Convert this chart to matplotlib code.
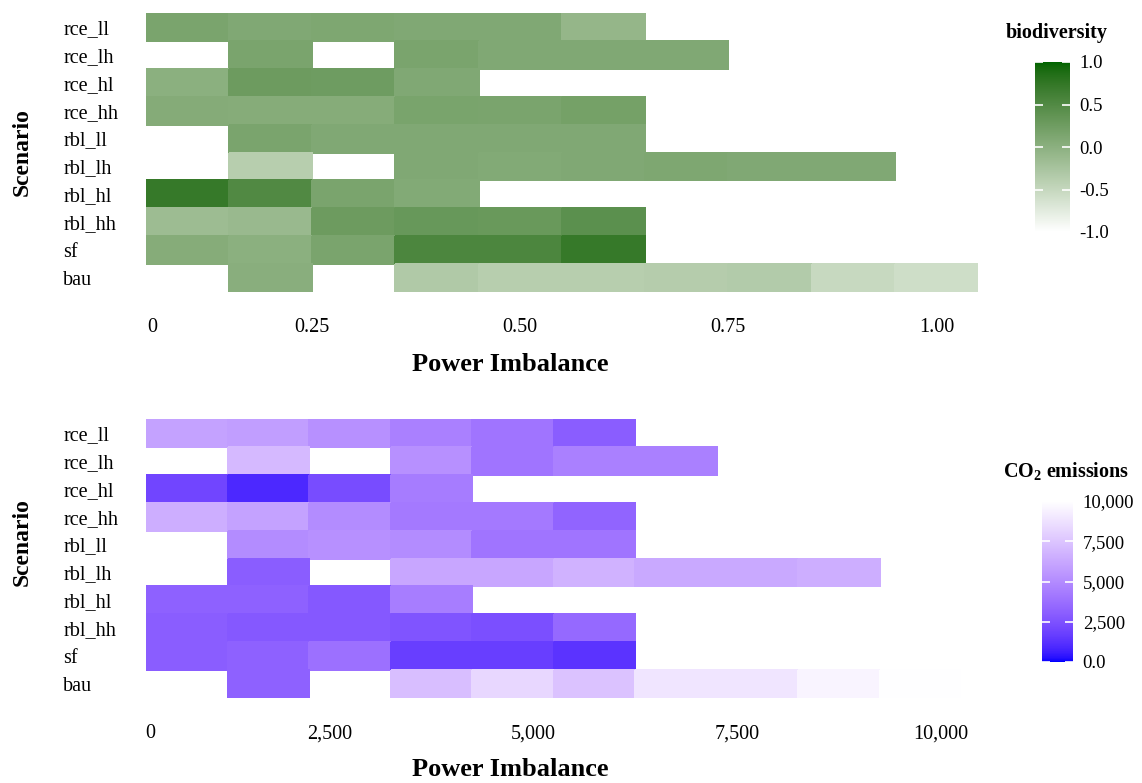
import numpy as np
import matplotlib
matplotlib.use("Agg")
import matplotlib.pyplot as plt
from matplotlib.colors import ListedColormap, Normalize, to_rgb

plt.rcParams['font.family'] = ['Liberation Serif', 'DejaVu Serif']
plt.rcParams['mathtext.fontset'] = 'custom'
plt.rcParams['mathtext.rm'] = 'Liberation Serif'
plt.rcParams['mathtext.bf'] = 'Liberation Serif:bold'

nan = np.nan

# ---------------- data ----------------
scenarios = ['rce_ll', 'rce_lh', 'rce_hl', 'rce_hh', 'rbl_ll',
             'rbl_lh', 'rbl_hl', 'rbl_hh', 'sf', 'bau']

bio_x = [0.1, 0.2, 0.3, 0.4, 0.5, 0.6, 0.7, 0.8, 0.9, 1.0]
bio_xticks = [0.058, 0.25, 0.50, 0.75, 1.00]
bio_xticklabels = ['0', '0.25', '0.50', '0.75', '1.00']
bio_cbar_ticks = [-1.0, -0.5, 0.0, 0.5, 1.0]
bio_cbar_labels = ['-1.0', '-0.5', '0.0', '0.5', '1.0']

biodiversity = [
    [0.15, 0.10, 0.12, 0.10, 0.10, -0.08, nan, nan, nan, nan],    # rce_ll
    [nan, 0.15, nan, 0.15, 0.10, 0.10, 0.10, nan, nan, nan],      # rce_lh
    [0.00, 0.27, 0.25, 0.10, nan, nan, nan, nan, nan, nan],       # rce_hl
    [0.06, 0.05, 0.05, 0.16, 0.15, 0.20, nan, nan, nan, nan],     # rce_hh
    [nan, 0.15, 0.10, 0.10, 0.10, 0.10, nan, nan, nan, nan],      # rbl_ll
    [nan, -0.38, nan, 0.10, 0.08, 0.10, 0.12, 0.10, 0.10, nan],   # rbl_lh
    [0.72, 0.50, 0.15, 0.08, nan, nan, nan, nan, nan, nan],       # rbl_hl
    [-0.15, -0.12, 0.27, 0.32, 0.30, 0.42, nan, nan, nan, nan],   # rbl_hh
    [0.05, 0.00, 0.15, 0.55, 0.55, 0.72, nan, nan, nan, nan],     # sf
    [nan, 0.02, nan, -0.32, -0.38, -0.38, -0.36, -0.34, -0.52, -0.58],  # bau
]

co2_x = [750, 1750, 2750, 3750, 4750, 5750, 6750, 7750, 8750, 9750]
co2_xticks = [300, 2500, 5000, 7500, 10000]
co2_xticklabels = ['0', '2,500', '5,000', '7,500', '10,000']
co2_cbar_ticks = [0, 2500, 5000, 7500, 10000]
co2_cbar_labels = ['0.0', '2,500', '5,000', '7,500', '10,000']

co2 = [
    [6000, 5800, 5200, 4500, 4000, 3000, nan, nan, nan, nan],     # rce_ll
    [nan, 7000, nan, 5200, 4000, 4500, 4500, nan, nan, nan],      # rce_lh
    [2000, 900, 2300, 4300, nan, nan, nan, nan, nan, nan],        # rce_hl
    [6500, 6000, 5000, 4200, 4200, 3300, nan, nan, nan, nan],     # rce_hh
    [nan, 5000, 5200, 5000, 4000, 4000, nan, nan, nan, nan],      # rbl_ll
    [nan, 3000, nan, 6200, 6200, 6700, 6300, 6300, 6500, nan],    # rbl_lh
    [3200, 3200, 2800, 4400, nan, nan, nan, nan, nan, nan],       # rbl_hl
    [3000, 2800, 2800, 2600, 2400, 3500, nan, nan, nan, nan],     # rbl_hh
    [3000, 3200, 3800, 1700, 1700, 1300, nan, nan, nan, nan],     # sf
    [nan, 3200, nan, 7200, 8300, 7400, 8900, 8900, 9500, 9950],   # bau
]


# ---------------- Lab colour ramp (like ggplot scale_fill_gradient) ----------------
WHITE_REF = np.array([0.95047, 1.0, 1.08883])
M = np.array([[0.4124, 0.3576, 0.1805],
              [0.2126, 0.7152, 0.0722],
              [0.0193, 0.1192, 0.9505]])
Minv = np.linalg.inv(M)


def to_lab(c):
    rgb = np.array(to_rgb(c))
    lin = np.where(rgb <= 0.04045, rgb / 12.92, ((rgb + 0.055) / 1.055) ** 2.4)
    xyz = M @ lin / WHITE_REF
    f = np.where(xyz > 0.008856, np.cbrt(xyz), 7.787 * xyz + 16 / 116)
    return np.array([116 * f[1] - 16, 500 * (f[0] - f[1]), 200 * (f[1] - f[2])])


def from_lab(lab):
    L, a, b = lab
    fy = (L + 16) / 116
    fx = fy + a / 500
    fz = fy - b / 200
    f = np.array([fx, fy, fz])
    xyz = np.where(f ** 3 > 0.008856, f ** 3, (f - 16 / 116) / 7.787) * WHITE_REF
    lin = Minv @ xyz
    lin = np.clip(lin, 0, 1)
    rgb = np.where(lin <= 0.0031308, 12.92 * lin, 1.055 * lin ** (1 / 2.4) - 0.055)
    return np.clip(rgb, 0, 1)


def lab_cmap(low, high, n=256):
    l1, l2 = to_lab(low), to_lab(high)
    cols = [from_lab(l1 + (l2 - l1) * t) for t in np.linspace(0, 1, n)]
    return ListedColormap(cols)


green_cmap = lab_cmap('white', '#006400')
blue_cmap = lab_cmap('#0000FF', 'white')

# ---------------- figure ----------------
W, H = 1142, 783
fig = plt.figure(figsize=(W / 100, H / 100), dpi=100)


def px_axes(x0, y0, x1, y1):
    return fig.add_axes([x0 / W, 1 - y1 / H, (x1 - x0) / W, (y1 - y0) / H])


def edges(centers):
    c = np.asarray(centers, dtype=float)
    step = c[1] - c[0]
    return np.concatenate([c - step / 2, [c[-1] + step / 2]])


def draw_panel(ax, xc, values, cmap, norm, xticks, xticklabels):
    data = np.ma.masked_invalid(np.array(values, dtype=float))
    xe = edges(xc)
    ye = np.arange(len(scenarios) + 1) - 0.5
    ax.pcolormesh(xe, ye, data, cmap=cmap, norm=norm, shading='flat',
                  edgecolors='face', linewidth=0.2)
    ax.set_xlim(xe[0], xe[-1])
    ax.set_ylim(ye[-1], ye[0])
    ax.set_yticks(np.arange(len(scenarios)))
    ax.set_yticklabels(scenarios, fontsize=14.5, ha='left')
    ax.set_xticks(xticks)
    ax.set_xticklabels(xticklabels, fontsize=14.5)
    ax.tick_params(axis='y', length=0, pad=59.5)
    ax.tick_params(axis='x', length=0, pad=19)
    for s in ax.spines.values():
        s.set_visible(False)
    ax.set_facecolor('white')


def draw_cbar(cax, cmap, norm, ticks, labels, title, tx, ty):
    sm = plt.cm.ScalarMappable(cmap=cmap, norm=norm)
    cb = fig.colorbar(sm, cax=cax)
    cb.outline.set_visible(False)
    cb.set_ticks(ticks)
    cb.set_ticklabels(labels)
    cax.tick_params(axis='y', which='both', left=True, right=True,
                    labelleft=False, labelright=True, direction='in',
                    length=6, width=1.2, color='white', labelsize=13.5, pad=7)
    cax.minorticks_off()
    fig.text(tx / W, 1 - ty / H, title, fontsize=14.5, fontweight='bold',
             ha='center', va='center')


# top panel: biodiversity
ax1 = px_axes(145.7, 13.3, 978, 291.7)
norm1 = Normalize(-1, 1)
draw_panel(ax1, bio_x, biodiversity, green_cmap, norm1, bio_xticks, bio_xticklabels)
cax1 = px_axes(1035, 62, 1070, 232)
draw_cbar(cax1, green_cmap, norm1, bio_cbar_ticks, bio_cbar_labels,
          'biodiversity', 1057, 33)

# bottom panel: CO2 emissions
ax2 = px_axes(146, 419.3, 961, 697.7)
norm2 = Normalize(0, 10000)
draw_panel(ax2, co2_x, co2, blue_cmap, norm2, co2_xticks, co2_xticklabels)
cax2 = px_axes(1042, 501, 1073, 662)
draw_cbar(cax2, blue_cmap, norm2, co2_cbar_ticks, co2_cbar_labels,
          r'CO$_{\mathbf{2}}$ emissions', 1066, 472)

# axis titles
for ty in (364, 769):
    fig.text(510 / W, 1 - ty / H, 'Power Imbalance', fontsize=19,
             fontweight='bold', ha='center', va='center')
for ty in (152, 542):
    fig.text(22 / W, 1 - ty / H, 'Scenario', fontsize=17, fontweight='bold',
             rotation=90, ha='center', va='center')

fig.savefig('out.png', dpi=100, facecolor='white')
